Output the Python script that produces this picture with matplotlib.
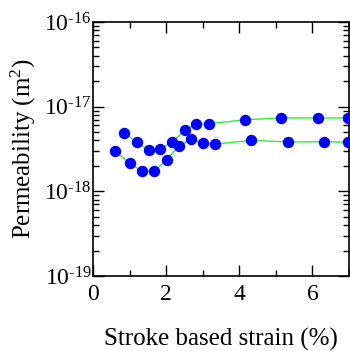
import matplotlib
matplotlib.use("Agg")
import matplotlib.pyplot as plt
import numpy as np
from matplotlib.ticker import LogLocator, MultipleLocator, NullFormatter, FuncFormatter

plt.rcParams['font.family'] = ['Liberation Serif', 'DejaVu Serif']
plt.rcParams['mathtext.fontset'] = 'custom'
plt.rcParams['mathtext.rm'] = 'Liberation Serif'
plt.rcParams['mathtext.it'] = 'Liberation Serif:italic'
plt.rcParams['mathtext.bf'] = 'Liberation Serif:bold'
plt.rcParams['axes.unicode_minus'] = False

# Lower series
x_low = [0.6, 1.0, 1.35, 1.68, 2.01, 2.35, 2.68, 3.0, 3.33, 4.33, 5.32, 6.32, 6.97]
k_low = [3.0e-18, 2.14e-18, 1.72e-18, 1.72e-18, 2.35e-18, 3.46e-18, 4.1e-18,
         3.7e-18, 3.6e-18, 4.0e-18, 3.83e-18, 3.86e-18, 3.8e-18]
# Upper series
x_up = [0.86, 1.19, 1.52, 1.84, 2.17, 2.51, 2.83, 3.17, 4.16, 5.15, 6.14, 6.97]
k_up = [4.9e-18, 3.8e-18, 3.1e-18, 3.16e-18, 3.86e-18, 5.25e-18, 6.18e-18,
        6.3e-18, 7.0e-18, 7.35e-18, 7.35e-18, 7.35e-18]

x_ticks = [0, 2, 4, 6]

fig = plt.figure(figsize=(3.5, 3.51), dpi=100)
ax = fig.add_axes([93/350, 1-276/351, 256/350, 254/351])

for xs, ks in [(x_low, k_low), (x_up, k_up)]:
    ax.plot(xs, ks, '-', color='#33ee33', lw=1.0, zorder=2)
    ax.plot(xs, ks, 'o', color='#0000ff', ms=7.2, mec='#0000ff', zorder=3,
            clip_on=False)

ax.set_yscale('log')
ax.set_xlim(0, 7)
ax.set_ylim(1e-19, 1e-16)
ax.set_xticks(x_ticks)
ax.xaxis.set_minor_locator(MultipleLocator(1))
ax.yaxis.set_major_locator(LogLocator(base=10, numticks=10))
ax.yaxis.set_minor_locator(LogLocator(base=10, subs=range(2, 10), numticks=20))
ax.yaxis.set_minor_formatter(NullFormatter())


def fmt(v, pos):
    e = int(round(np.log10(v)))
    sign = r'\text{-}' if e < 0 else ''
    return r'$\mathdefault{10^{%s%d}}$' % (sign, abs(e))


ax.yaxis.set_major_formatter(FuncFormatter(fmt))

ax.tick_params(which='both', direction='in', top=True, right=True,
               labelsize=17, width=1.0)
ax.tick_params(axis='x', pad=6)
ax.tick_params(axis='y', pad=1)
ax.tick_params(which='major', length=8)
ax.tick_params(which='minor', length=4)
for s in ax.spines.values():
    s.set_linewidth(1.2)

ax.set_xlabel('Stroke based strain (%)', fontsize=18, labelpad=16)
ax.set_ylabel('Permeability (m$^2$)', fontsize=18)
ax.yaxis.set_label_coords(-0.213, 0.5)

fig.savefig('out.png', dpi=100)
